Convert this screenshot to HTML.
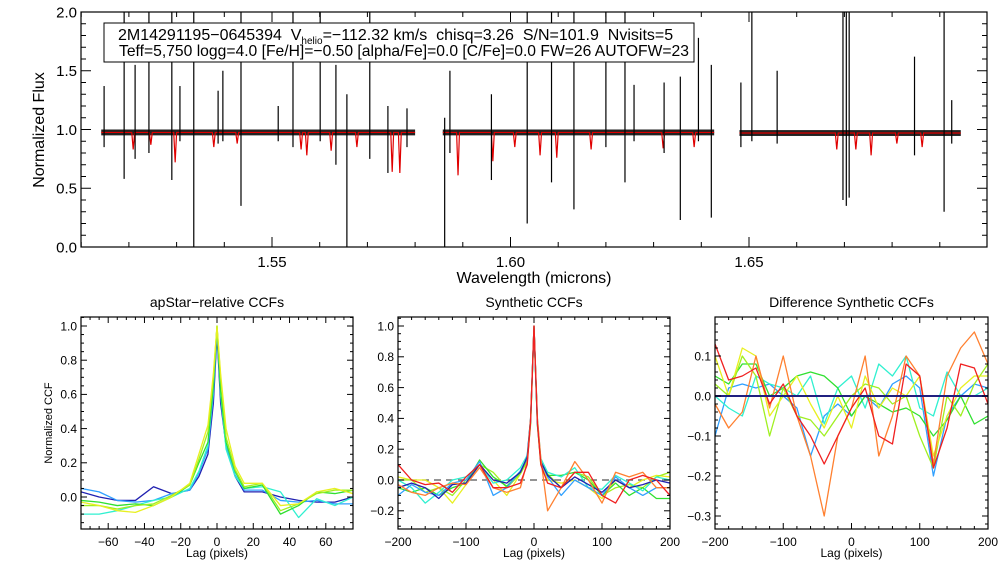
<!DOCTYPE html>
<html><head><meta charset="utf-8"><style>
html,body{margin:0;padding:0;background:#fff;}
svg{display:block;font-family:"Liberation Sans",sans-serif;}
text{white-space:pre;}
</style></head><body>
<svg id="fig" width="1008" height="576" viewBox="0 0 1008 576" xmlns="http://www.w3.org/2000/svg">
<rect width="1008" height="576" fill="#fff"/>
<g id="top"></g>
<g id="p1"></g>
<g id="p2"></g>
<g id="p3"></g>
</svg>
<script>
// ---- spectrum data ----
const chipStarts=[1.5142,1.5858,1.6480];
const chipEnds=[1.5800,1.6427,1.6944];
const chipLevels=[0.975,0.975,0.97];
const spikeWl=[1.5148,1.5190,1.5213,1.5242,1.5290,1.5307,1.5336,1.5387,1.5397,1.5435,1.5513,1.5544,1.5601,1.5634,1.5657,1.5705,1.5743,1.5783,1.5862,1.5873,1.5960,1.6035,1.6086,1.6133,1.6200,1.6240,1.6259,1.6322,1.6356,1.6394,1.6421,1.6483,1.6506,1.6559,1.6697,1.6704,1.6710,1.6847,1.6909,1.6925];
const spikeHi=[1.37,2.0,1.55,2.0,2.0,1.37,2.0,1.33,1.5,2.0,1.2,2.0,2.0,1.55,1.3,2.0,1.2,1.18,1.1,1.5,1.3,2.0,2.0,2.0,2.0,2.0,1.38,1.4,1.45,1.78,1.55,1.4,2.0,1.5,2.0,2.0,2.0,1.62,2.0,1.25];
const spikeLo=[0.85,0.58,0.75,0.8,0.57,0.9,0.0,0.88,0.9,0.35,0.9,0.85,0.9,0.7,0.0,0.75,0.63,0.85,0.0,0.8,0.57,0.2,0.55,0.32,0.85,0.55,0.9,0.8,0.23,0.9,0.25,0.85,0.9,0.88,0.4,0.35,0.42,0.78,0.3,0.88];
const modelWl=[1.5209,1.5246,1.5297,1.5378,1.5427,1.5561,1.5573,1.5624,1.5678,1.5752,1.5768,1.5890,1.5963,1.6009,1.6062,1.6097,1.6169,1.6320,1.6385,1.6684,1.6724,1.6756,1.6810,1.6863];
const modelDepth=[0.83,0.87,0.72,0.85,0.88,0.83,0.78,0.82,0.85,0.64,0.63,0.61,0.73,0.85,0.78,0.76,0.83,0.84,0.85,0.83,0.83,0.78,0.88,0.85];
// ---- CCF data ----
const lag1=[-75,-65,-55,-45,-35,-25,-15,-10,-5,-2,0,2,5,10,15,25,35,45,55,65,75];
const ccf1={
 "#2020b0":[0.03,0.0,-0.02,-0.02,0.06,0.02,0.04,0.12,0.25,0.55,0.95,0.55,0.3,0.12,0.03,0.03,0.0,-0.02,-0.03,-0.03,0.0],
 "#30a0ff":[0.05,0.03,-0.02,-0.03,-0.02,0.02,0.04,0.14,0.28,0.6,0.98,0.6,0.3,0.13,0.04,0.04,-0.02,-0.03,-0.02,-0.04,-0.04],
 "#30f0d0":[-0.1,-0.1,-0.08,-0.05,-0.02,0.0,0.05,0.15,0.3,0.65,1.0,0.6,0.28,0.12,0.05,0.06,0.03,-0.12,-0.01,-0.05,0.0],
 "#30e030":[-0.02,-0.03,-0.05,-0.04,-0.05,0.0,0.07,0.2,0.32,0.65,1.0,0.62,0.32,0.15,0.05,0.07,-0.1,-0.05,0.03,0.02,0.04],
 "#a0f020":[-0.05,-0.05,-0.07,-0.05,-0.04,0.01,0.07,0.22,0.38,0.7,1.0,0.7,0.35,0.16,0.06,0.08,-0.08,-0.04,0.02,0.04,0.04],
 "#e8f020":[-0.03,-0.05,-0.08,-0.09,-0.05,0.0,0.08,0.25,0.42,0.72,1.0,0.72,0.4,0.18,0.08,0.08,-0.05,-0.04,0.03,0.05,0.02]};
const lag2=[-200,-180,-160,-140,-120,-100,-80,-60,-40,-20,-10,-5,0,5,10,20,40,60,80,100,120,140,160,180,200];
const ccf2={
 "#e8f020":[0.02,0.0,0.0,-0.05,-0.15,-0.03,0.1,0.0,-0.1,0.04,0.13,0.37,0.98,0.35,0.1,0.0,-0.02,0.0,-0.05,-0.12,0.0,-0.05,0.0,0.03,0.02],
 "#a0f020":[0.0,0.0,-0.08,-0.05,-0.1,0.0,0.1,0.05,-0.05,0.04,0.12,0.36,0.99,0.37,0.12,0.04,-0.05,0.05,0.02,-0.1,-0.05,-0.03,-0.05,0.02,0.05],
 "#30e030":[-0.05,-0.08,-0.05,-0.1,-0.05,-0.02,0.13,0.02,-0.04,0.05,0.14,0.38,1.0,0.36,0.12,0.03,0.03,0.05,0.0,-0.1,-0.02,-0.1,-0.05,-0.12,-0.12],
 "#30f0d0":[0.0,-0.05,-0.15,-0.08,0.0,0.02,0.1,-0.02,0.0,0.08,0.16,0.4,0.99,0.4,0.14,0.05,0.02,0.08,-0.05,-0.06,0.03,-0.02,-0.07,0.02,0.0],
 "#30a0ff":[-0.1,-0.03,-0.08,-0.1,-0.02,0.0,0.12,-0.1,-0.05,0.06,0.14,0.38,0.98,0.36,0.12,0.02,-0.1,0.0,-0.05,-0.1,0.02,-0.05,-0.1,-0.05,-0.05],
 "#2020b0":[-0.05,-0.02,-0.05,-0.12,-0.03,-0.02,0.1,0.0,-0.02,0.05,0.15,0.4,1.0,0.38,0.12,0.03,-0.05,0.02,-0.03,-0.08,0.0,-0.05,-0.03,0.0,-0.02],
 "#ff8030":[-0.03,-0.08,-0.1,-0.05,-0.02,-0.03,0.08,-0.05,-0.08,-0.05,0.12,0.4,1.0,0.4,0.14,-0.2,-0.05,0.12,0.0,-0.15,0.05,0.02,0.05,-0.05,-0.05],
 "#f02020":[0.1,0.0,-0.03,-0.02,-0.08,0.02,0.1,-0.05,-0.05,-0.02,0.1,0.38,1.0,0.37,0.1,-0.02,-0.05,0.05,0.05,-0.1,-0.15,0.0,0.03,0.0,-0.1]};
const lag3=[-200,-180,-160,-140,-120,-100,-80,-60,-40,-20,0,20,40,60,80,100,120,140,160,180,200];
const ccf3={
 "#30a0ff":[-0.1,0.02,0.03,0.02,0.03,0.0,-0.03,-0.15,-0.05,-0.02,-0.05,0.0,-0.03,0.03,0.05,0.02,-0.2,-0.05,0.0,0.03,0.02],
 "#30f0d0":[0.0,-0.03,-0.05,0.05,0.03,0.02,0.0,0.05,-0.07,0.02,0.05,-0.03,0.08,0.05,0.1,-0.03,-0.05,0.06,0.0,0.0,0.02],
 "#30e030":[0.05,0.03,0.08,0.08,0.0,0.02,0.05,0.06,0.05,0.02,-0.05,0.0,-0.02,-0.04,-0.03,-0.05,-0.1,-0.06,0.0,-0.07,-0.05],
 "#a0f020":[0.03,0.0,0.1,0.05,-0.1,0.02,-0.05,-0.06,-0.1,-0.05,0.0,0.03,0.02,-0.02,0.0,-0.1,-0.18,0.0,-0.05,0.03,0.08],
 "#e8f020":[0.1,0.0,0.12,0.1,-0.05,0.0,0.05,-0.02,-0.08,0.0,-0.08,0.05,-0.03,0.02,0.0,0.05,-0.15,-0.05,0.02,0.05,0.05],
 "#ff8030":[-0.02,-0.08,-0.04,0.1,-0.03,0.1,-0.05,-0.15,-0.3,-0.1,-0.03,0.1,-0.15,-0.05,0.1,0.05,-0.17,0.05,0.12,0.16,0.08],
 "#f02020":[0.13,0.04,0.05,0.07,-0.02,0.03,-0.05,-0.1,-0.17,-0.1,-0.03,0.02,-0.1,-0.12,0.08,0.05,-0.18,-0.08,0.08,0.07,-0.02],
 "#202080":[0,0,0,0,0,0,0,0,0,0,0,0,0,0,0,0,0,0,0,0,0]};
const topXTicks=[1.55,1.60,1.65];
const topYTicks=[0.0,0.5,1.0,1.5,2.0];

const NS="http://www.w3.org/2000/svg";
function el(parent,tag,attrs){const e=document.createElementNS(NS,tag);for(const k in attrs)e.setAttribute(k,attrs[k]);parent.appendChild(e);return e;}
function txt(parent,x,y,s,size,anchor,rot){const t=el(parent,'text',{x:x,y:y,'font-size':size,'text-anchor':anchor||'middle',fill:'#000'});if(rot)t.setAttribute('transform','rotate(-90 '+x+' '+y+')');t.textContent=s;return t;}
function lin(d0,d1,r0,r1){return v=>r0+(v-d0)*(r1-r0)/(d1-d0);}
function fmt(v,dec){let s=v.toFixed(dec);if(v<0)s='\u2212'+(-v).toFixed(dec);return s;}

function axes(g,L,T,R,B,sx,sy,xmaj,xmin,ymaj,ymin,xlo,xhi,ylo,yhi,xdec,ydec,fs,majLen,minLen){
  const r=el(g,'rect',{x:L,y:T,width:R-L,height:B-T,fill:'none',stroke:'#000','stroke-width':1.2});
  
  const eps=1e-9;
  for(let v=Math.ceil(xlo/xmin-eps)*xmin;v<=xhi+eps;v+=xmin){
    const isMaj=Math.abs(v/xmaj-Math.round(v/xmaj))<1e-6;const len=isMaj?majLen:minLen;const x=sx(v);
    el(g,'line',{x1:x,y1:B,x2:x,y2:B-len,stroke:'#000','stroke-width':1});
    el(g,'line',{x1:x,y1:T,x2:x,y2:T+len,stroke:'#000','stroke-width':1});
    if(isMaj&&xdec!==null){const t=txt(g,x,B+fs+5,fmt(Math.abs(v)<eps?0:v,xdec),fs);}
  }
  for(let v=Math.ceil(ylo/ymin-eps)*ymin;v<=yhi+eps;v+=ymin){
    const isMaj=Math.abs(v/ymaj-Math.round(v/ymaj))<1e-6;const len=isMaj?majLen:minLen;const y=sy(v);
    el(g,'line',{x1:L,y1:y,x2:L+len,y2:y,stroke:'#000','stroke-width':1});
    el(g,'line',{x1:R,y1:y,x2:R-len,y2:y,stroke:'#000','stroke-width':1});
    if(isMaj){const t=txt(g,L-4,y+fs*0.36,fmt(Math.abs(v)<eps?0:v,ydec),fs,'end');}
  }
}

// ---- top spectrum ----
(function(){
  const g=document.getElementById('top');
  const L=81,R=987,T=12,B=247;
  const sx=lin(1.55,1.60,272,510.5), sy=lin(0,2,247,12);
  const cp=el(g,'clipPath',{id:'ctop'});el(cp,'rect',{x:L,y:T,width:R-L,height:B-T});
  const d=el(g,'g',{'clip-path':'url(#ctop)'});
  for(let c=0;c<3;c++){
    const band=el(d,'rect',{x:sx(chipStarts[c]),y:sy(chipLevels[c]+0.025),width:sx(chipEnds[c])-sx(chipStarts[c]),height:sy(0)-sy(0.05),fill:'#222'});
    
  }
  for(let c=0;c<3;c++){
    let pts=[[chipStarts[c],chipLevels[c]]];
    for(let i=0;i<modelWl.length;i++){if(modelWl[i]>chipStarts[c]&&modelWl[i]<chipEnds[c]){pts.push([modelWl[i]-0.0003,chipLevels[c]]);pts.push([modelWl[i],modelDepth[i]]);pts.push([modelWl[i]+0.0003,chipLevels[c]]);}}
    pts.push([chipEnds[c],chipLevels[c]]);
    const p=el(d,'polyline',{points:pts.map(q=>sx(q[0])+','+sy(q[1])).join(' '),fill:'none',stroke:'#e00000','stroke-width':1.2});
    
  }
  for(let i=0;i<spikeWl.length;i++){
    const s=el(d,'line',{x1:sx(spikeWl[i]),x2:sx(spikeWl[i]),y1:sy(spikeHi[i]),y2:sy(spikeLo[i]),stroke:'#000','stroke-width':1.2});
    
  }
  axes(g,L,T,R,B,sx,sy,0.05,0.01,0.5,0.1,1.51,1.699,0,2,2,1,15,10,5);
  const yl=txt(g,44,130,'Normalized Flux',16,'middle',true);
  const xl=txt(g,534,283,'Wavelength (microns)',16);
  const lg=el(g,'rect',{x:104,y:23,width:590,height:39,fill:'#fff',stroke:'#000','stroke-width':1});
  
  const t1=el(g,'text',{x:118,y:40,'font-size':16});
  t1.innerHTML='2M14291195\u22120645394  V<tspan font-size="10" dy="4">helio</tspan><tspan dy="-4">=\u2212112.32 km/s  chisq=3.26  S/N=101.9  Nvisits=5</tspan>';
  const t2=txt(g,119,56,'Teff=5,750 logg=4.0 [Fe/H]=\u22120.50 [alpha/Fe]=0.0 [C/Fe]=0.0 FW=26 AUTOFW=23',16,'start');
  t2.setAttribute('textLength',570);t2.setAttribute('lengthAdjust','spacingAndGlyphs');
  
})();

// ---- CCF panels ----
function ccfPanel(id,L,R,xlo,xhi,ylo,yhi,sy,lags,series,xmaj,xmin,ymaj,ymin,ydec,title,zeroStyle){
  const g=document.getElementById(id);const T=317,B=529;
  const sx=lin(xlo,xhi,L,R);
  const cp=el(g,'clipPath',{id:'c'+id});el(cp,'rect',{x:L,y:T,width:R-L,height:B-T});
  const d=el(g,'g',{'clip-path':'url(#c'+id+')'});
  if(zeroStyle==='dash'){const z=el(d,'line',{x1:L,x2:R,y1:sy(0),y2:sy(0),stroke:'#555','stroke-width':1.3,'stroke-dasharray':'7,5'});}
  for(const col in series){
    const v=series[col];
    const p=el(d,'polyline',{points:lags.map((l,i)=>sx(l)+','+sy(v[i])).join(' '),fill:'none',stroke:col,'stroke-width':col==='#202080'?2:1.3,'stroke-linejoin':'round'});
    
  }
  axes(g,L,T,R,B,sx,sy,xmaj,xmin,ymaj,ymin,xlo,xhi,ylo,yhi,0,ydec,12,6,3);
  const tt=txt(g,(L+R)/2,307,title,14);
  const xl=txt(g,(L+R)/2,557,'Lag (pixels)',12);
}
ccfPanel('p1',81,353,-75,75,-0.19,1.06,lin(0,1,497,326),lag1,ccf1,20,5,0.2,0.05,1,'apStar\u2212relative CCFs','none');
ccfPanel('p2',398,670,-200,200,-0.316,1.058,lin(0,1,480,326),lag2,ccf2,100,20,0.2,0.05,1,'Synthetic CCFs','dash');
ccfPanel('p3',715,988,-200,200,-0.3325,0.1975,lin(0,0.1,396,356),lag3,ccf3,100,20,0.1,0.02,1,'Difference Synthetic CCFs','none');
(function(){const g=document.getElementById('p1');const t=txt(g,52,423,'Normalized CCF',11,'middle',true);})();
</script>
</body></html>
